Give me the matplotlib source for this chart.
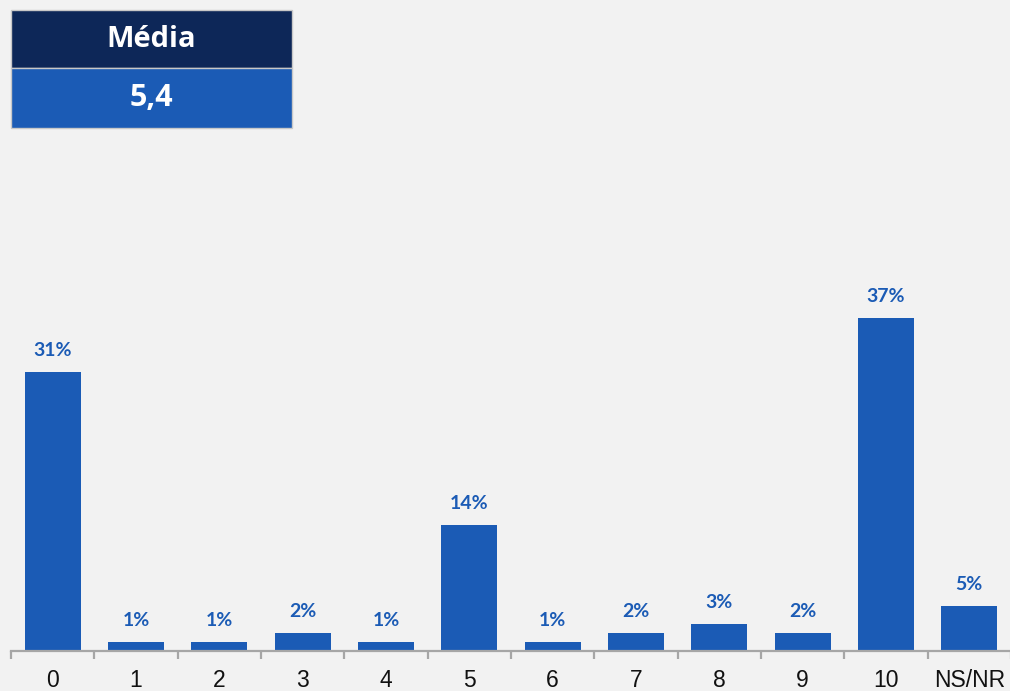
import matplotlib
matplotlib.use("Agg")
import matplotlib.pyplot as plt
from matplotlib.patches import Rectangle

categories = ["0", "1", "2", "3", "4", "5", "6", "7", "8", "9", "10", "NS/NR"]
values = [31, 1, 1, 2, 1, 14, 1, 2, 3, 2, 37, 5]
mean_title = "Média"
mean_value = "5,4"

BG = "#F2F2F2"
BAR = "#1B5BB5"
DARK = "#0D2758"
AXIS = "#A6A6A6"

W, H = 1010, 691
fig = plt.figure(figsize=(W / 100, H / 100), dpi=100, facecolor=BG)

# main axes: baseline at y=651 px, 9 px per percent
ax = fig.add_axes([11 / W, 40 / H, 1000 / W, 450 / H])
ax.set_facecolor(BG)
x = list(range(len(categories)))
ax.bar(x, values, width=0.67, color=BAR, zorder=2)
ax.set_xlim(-0.5, len(categories) - 0.5)
ax.set_ylim(0, 50)
for s in ["top", "right", "left"]:
    ax.spines[s].set_visible(False)
ax.spines["bottom"].set_color(AXIS)
ax.spines["bottom"].set_linewidth(1.6)
ax.set_yticks([])
ax.set_xticks(x)
ax.set_xticklabels(categories, fontsize=16.5, family="Liberation Sans", color="#111111")
ax.tick_params(axis="x", which="major", length=0, pad=13)
ax.set_xticks([i - 0.5 for i in range(len(categories) + 1)], minor=True)
ax.tick_params(axis="x", which="minor", length=6, width=1.6, color=AXIS, direction="out")

for xi, v in zip(x, values):
    ax.annotate(f"{v}%", (xi, v), xytext=(0, 11.5), textcoords="offset points",
                ha="center", va="baseline", fontsize=14, fontweight="bold",
                family="Lato", color=BAR)

# mean box in pixel coords
ov = fig.add_axes([0, 0, 1, 1])
ov.set_xlim(0, W)
ov.set_ylim(H, 0)
ov.axis("off")
ov.patch.set_alpha(0)
ov.add_patch(Rectangle((11, 10), 281, 58, facecolor=DARK, edgecolor="#C8C8C8", lw=1))
ov.add_patch(Rectangle((11, 68), 281, 60, facecolor=BAR, edgecolor="#C8C8C8", lw=1))
ov.text(151.5, 39, mean_title, ha="center", va="center", fontsize=21,
        fontweight="bold", family="Open Sans", color="white")
ov.text(151.5, 98, mean_value, ha="center", va="center", fontsize=22,
        fontweight="bold", family="Open Sans", color="white")

fig.savefig("out.png", dpi=100, facecolor=BG)
